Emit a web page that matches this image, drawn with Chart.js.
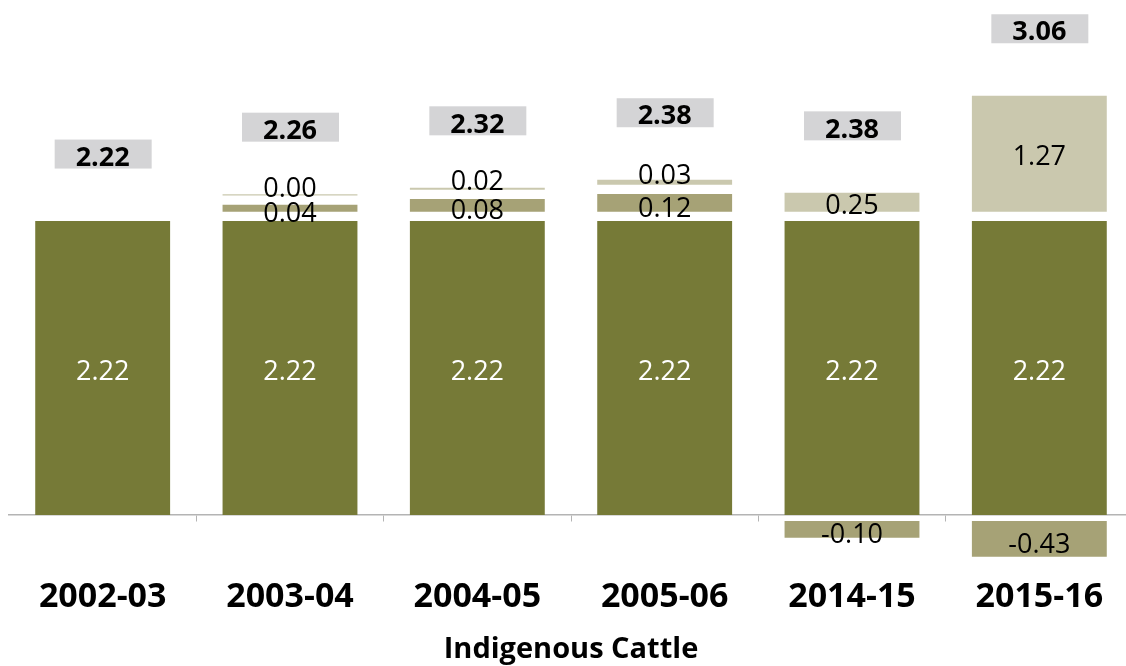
<!DOCTYPE html>
<html>
<head>
<meta charset="utf-8">
<title>Indigenous Cattle</title>
<script src="https://cdn.jsdelivr.net/npm/chart.js@4/dist/chart.umd.min.js"></script>
<style>
  html, body { margin: 0; padding: 0; overflow: hidden; background: #fff; }
  canvas { display: block; }
</style>
</head>
<body>
<canvas id="cattleChart" width="1134" height="666"></canvas>
<script>
// categories and printed values
const categories = ['2002-03', '2003-04', '2004-05', '2005-06', '2014-15', '2015-16'];
const baseValue  = [2.22, 2.22, 2.22, 2.22, 2.22, 2.22];
const feedGain   = [null, 0.04, 0.08, 0.12, null, null];
const otherGain  = [null, 0.00, 0.02, 0.03, 0.25, 1.27];
const lossValue  = [null, null, null, null, -0.10, -0.43];
const totals     = [2.22, 2.26, 2.32, 2.38, 2.38, 3.06];

// segment heights as they are drawn in the picture (not always the printed value)
const feedBar  = [null, 0.053, 0.096, 0.134, null, null];
const otherBar = [null, 0.010, 0.015, 0.038, 0.143, 0.876];
const lossBar  = [null, null, null, null, -0.126, -0.27];

const GAP = 0.07;      // white space between stacked pieces
const NEG_GAP = -0.045;

const DARK = '#767a37';
const MID = '#a6a276';
const LIGHT = '#cac8ae';
const BOX = '#d4d4d6';
const FONT = "'Open Sans', 'DejaVu Sans', sans-serif";

// spacers only where a piece sits above them
const gapLow  = categories.map((c, i) => (feedBar[i] != null || otherBar[i] != null) ? GAP : null);
const gapHigh = categories.map((c, i) => (feedBar[i] != null && otherBar[i] != null) ? GAP : null);
const gapNeg  = categories.map((c, i) => lossBar[i] != null ? NEG_GAP : null);

const labelPlugin = {
    id: 'segmentLabels',
    afterDatasetsDraw(chart) {
        const ctx = chart.ctx;
        const m = (idx) => chart.getDatasetMeta(idx).data;
        ctx.save();
        ctx.textAlign = 'center';
        ctx.textBaseline = 'middle';

        categories.forEach((c, i) => {
            const base = m(0)[i];
            const x = base.x;

            // 2.22 in the dark bar
            ctx.font = '27px ' + FONT;
            ctx.fillStyle = '#ffffff';
            ctx.fillText(baseValue[i].toFixed(2), x, (base.y + base.base) / 2 + 4);

            ctx.fillStyle = '#000000';
            if (feedGain[i] != null) {
                const el = m(2)[i];
                ctx.fillText(feedGain[i].toFixed(2), x, (el.y + el.base) / 2 + 6);
            }
            let top = base.y;
            if (feedBar[i] != null) top = Math.min(top, m(2)[i].y);
            if (otherGain[i] != null) {
                const el = m(4)[i];
                top = Math.min(top, el.y);
                const h = el.base - el.y;
                const mid = (el.y + el.base) / 2;
                ctx.fillText(otherGain[i].toFixed(2), x, h < 12 ? mid - 6 : mid + 4);
            }
            if (lossValue[i] != null) {
                const el = m(6)[i];
                ctx.fillText(lossValue[i].toFixed(2), x, (el.y + el.base) / 2 + 6);
            }

            // total in a grey box
            const cy = top - 67;
            ctx.fillStyle = BOX;
            ctx.fillRect(x - 48, cy - 14.5, 97, 29);
            ctx.fillStyle = '#000000';
            ctx.font = 'bold 27px ' + FONT;
            ctx.fillText(totals[i].toFixed(2), x, cy + 4);
        });
        ctx.restore();
    }
};

const ctx = document.getElementById('cattleChart').getContext('2d');
const cattleChart = new Chart(ctx, {
    type: 'bar',
    data: {
        labels: categories,
        datasets: [
            { label: 'Base', data: baseValue, backgroundColor: DARK },
            { label: 'gap1', data: gapLow, backgroundColor: 'rgba(0,0,0,0)' },
            { label: 'Feed', data: feedBar, backgroundColor: MID },
            { label: 'gap2', data: gapHigh, backgroundColor: 'rgba(0,0,0,0)' },
            { label: 'Other', data: otherBar, backgroundColor: LIGHT },
            { label: 'gap3', data: gapNeg, backgroundColor: 'rgba(0,0,0,0)' },
            { label: 'Loss', data: lossBar, backgroundColor: MID }
        ]
    },
    options: {
        responsive: false,
        animation: false,
        maintainAspectRatio: false,
        layout: { padding: { left: 9, right: 1, top: 0, bottom: 0 } },
        datasets: { bar: { categoryPercentage: 1, barPercentage: 0.72, borderWidth: 0 } },
        scales: {
            x: {
                stacked: true,
                position: { y: 0 },
                border: { display: true, color: '#b4b4b4', width: 1.5 },
                grid: {
                    offset: true,
                    drawOnChartArea: false,
                    drawTicks: true,
                    tickLength: 6,
                    color: (c) => c.index === 0 ? 'rgba(0,0,0,0)' : '#b4b4b4'
                },
                ticks: {
                    color: '#000',
                    padding: 3,
                    // empty first line pushes the year down below the negative bars
                    callback: (v, i) => ['', categories[i]],
                    font: { family: FONT, size: 34, weight: 'bold', lineHeight: 1.43 }
                }
            },
            y: {
                stacked: true,
                display: false,
                min: -0.453,
                max: 3.889
            }
        },
        plugins: {
            legend: { display: false },
            tooltip: { enabled: false },
            title: {
                display: true,
                text: 'Indigenous Cattle',
                position: 'bottom',
                color: '#000',
                font: { family: FONT, size: 29, weight: 'bold', lineHeight: 1.1 },
                padding: { top: 59, bottom: 0 }
            }
        }
    },
    plugins: [labelPlugin]
});
</script>
</body>
</html>
